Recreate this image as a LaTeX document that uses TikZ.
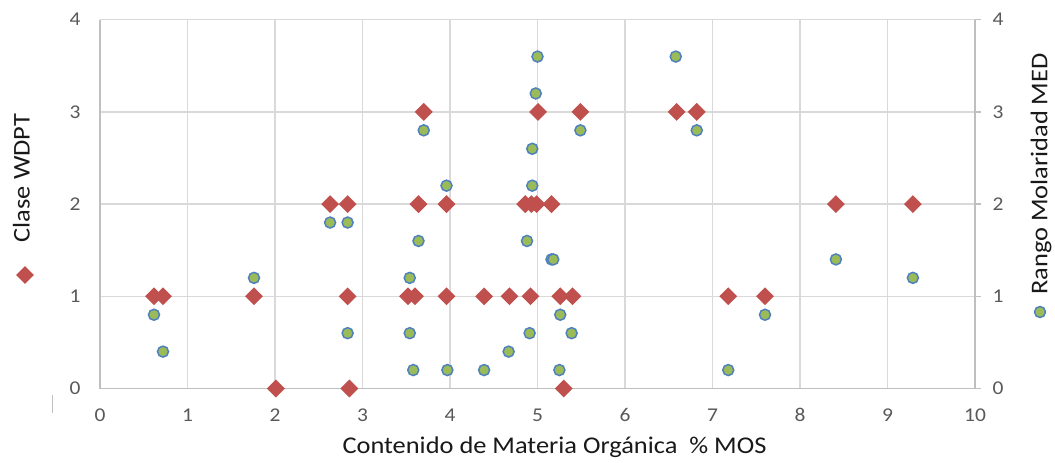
\documentclass[tikz,border=0pt]{standalone}
\usepackage{fontspec}
\setmainfont{Carlito}[FakeStretch=1.1]
\usetikzlibrary{shapes.geometric}
\definecolor{gridc}{HTML}{D9D9D9}
\definecolor{axisc}{HTML}{BFBFBF}
\definecolor{tickc}{HTML}{595959}
\definecolor{redm}{HTML}{C0504D}
\definecolor{greenm}{HTML}{9BBB59}
\definecolor{bluem}{HTML}{4F81BD}
\tikzset{
  dmd/.style={diamond, fill=redm, inner sep=0pt, minimum width=18pt, minimum height=18pt},
  dot/.style={circle, fill=greenm, draw=bluem, line width=1.5pt, inner sep=0pt, minimum size=11pt},
  gridline/.style={draw=gridc, line width=1.3pt},
  axisline/.style={draw=axisc, line width=1.5pt},
  ticklab/.style={text=tickc, font=\fontsize{19.5}{22}\selectfont, inner sep=0pt},
  title/.style={text=black!90, font=\fontsize{24}{28}\selectfont, inner sep=0pt}
}
\begin{document}
\begin{tikzpicture}[x=87.5pt,y=92.2pt]
\useasboundingbox[fill=white] (-100pt,-74.5pt) rectangle (955pt,388.5pt);
% grid
\foreach \i in {1,...,9} \draw[gridline] (\i,0) -- (\i,4);
\foreach \j in {1,...,4} \draw[gridline] (0,\j) -- (10,\j);
% axes
\draw[axisline] (0,4) -- (0,0) -- (10,0);
\draw[axisline] (10,0) -- (10,4);
\foreach \j in {0,...,4} \draw[axisline] (10,\j) -- ++(6pt,0);
% tick labels
\foreach \j in {0,...,4} {
  \node[ticklab] (yl\j) at (-25pt,\j) {\j};
  \node[ticklab] (yr\j) at (898pt,\j) {\j};
}
\foreach \i in {0,...,10} \node[ticklab] (xl\i) at (\i,-26.5pt) {\i};
% titles
\node[title] (xt) at (454.5pt,-58.5pt) {Contenido de Materia Orgánica~~\% MOS};
\node[title, rotate=90] (ytl) at (-78.5pt,210.5pt) {Clase WDPT};
\node[title, rotate=90] (ytr) at (941pt,214.5pt) {Rango Molaridad MED};
\node[dmd] (legd) at (-75pt,113.5pt) {};
\node[dot] (legc) at (940pt,76.5pt) {};
\draw[draw=axisc, line width=1pt] (-47pt,-6.5pt) -- (-47pt,-24.5pt);
% diamonds
\foreach \px/\py [count=\k] in {0.617/1, 0.72/1, 1.76/1, 2.01/0, 2.63/2, 2.83/2, 2.83/1, 2.85/0, 3.52/1, 3.60/1, 3.64/2, 3.70/3, 3.96/2, 3.96/1, 4.39/1, 4.68/1, 4.86/2, 4.92/1, 4.93/2, 4.99/2, 5.006/3, 5.16/2, 5.26/1, 5.30/0, 5.40/1, 5.49/3, 6.59/3, 6.82/3, 7.18/1, 7.60/1, 8.41/2, 9.29/2}
  \node[dmd] (d\k) at (\px,\py) {};
% circles
\foreach \px/\py [count=\k] in {0.617/0.8, 0.72/0.4, 1.76/1.2, 2.63/1.8, 2.83/1.8, 2.83/0.6, 3.54/1.2, 3.54/0.6, 3.58/0.2, 3.64/1.6, 3.70/2.8, 3.96/2.2, 3.97/0.2, 4.39/0.2, 4.67/0.4, 4.88/1.6, 4.91/0.6, 4.94/2.6, 4.94/2.2, 4.98/3.2, 5.0/3.6, 5.16/1.4, 5.18/1.4, 5.25/0.2, 5.26/0.8, 5.39/0.6, 5.49/2.8, 6.58/3.6, 6.82/2.8, 7.18/0.2, 7.60/0.8, 8.41/1.4, 9.29/1.2}
  \node[dot] (c\k) at (\px,\py) {};
\end{tikzpicture}
\end{document}
